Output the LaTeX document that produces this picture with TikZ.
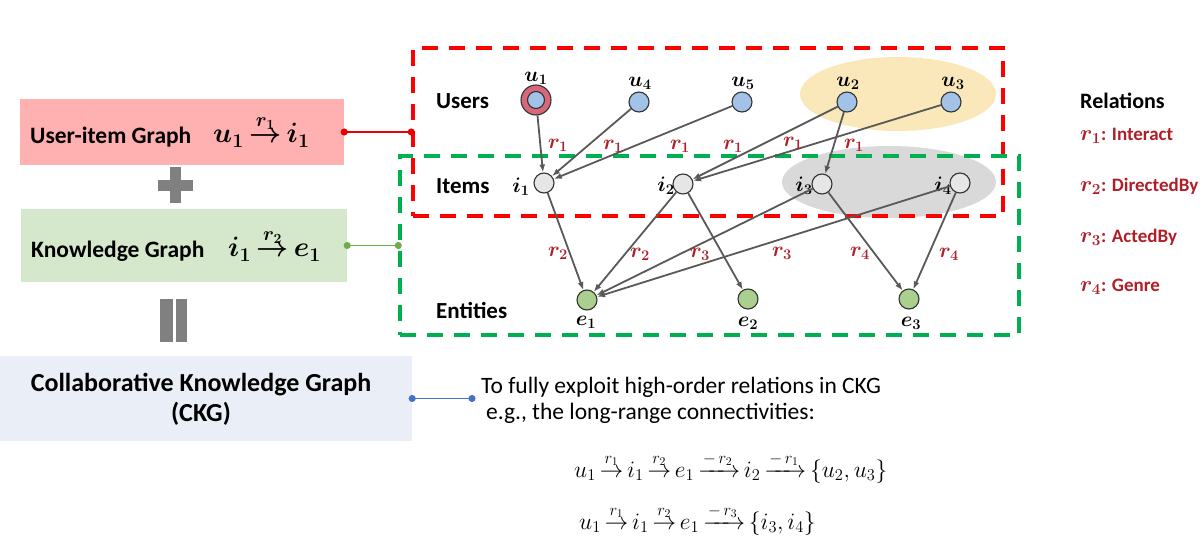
\RequirePackage{fix-cm}
\documentclass[tikz,border=0pt]{standalone}
\usepackage[no-math]{fontspec}
\setmainfont{Carlito}
\usepackage{amsmath}
\usepackage{bm}
\usetikzlibrary{arrows.meta}
\definecolor{pinkbox}{RGB}{255,176,176}
\definecolor{greenbox}{RGB}{213,232,204}
\definecolor{bluebox}{RGB}{233,238,247}
\definecolor{nodeblue}{RGB}{163,194,232}
\definecolor{nodegrey}{RGB}{230,230,230}
\definecolor{nodegreen}{RGB}{169,208,142}
\definecolor{ring}{RGB}{214,104,122}
\definecolor{yell}{RGB}{250,232,186}
\definecolor{greyell}{RGB}{217,217,217}
\definecolor{edgec}{RGB}{89,89,89}
\definecolor{rel}{RGB}{176,30,40}
\definecolor{dashred}{RGB}{255,0,0}
\definecolor{dashgreen}{RGB}{0,176,80}
\definecolor{conred}{RGB}{232,0,0}
\definecolor{congreen}{RGB}{112,173,71}
\definecolor{conblue}{RGB}{68,114,196}
\definecolor{signgrey}{RGB}{128,128,128}
\newcommand{\legr}[1]{{\fontsize{22}{22}\selectfont$\bm{r}_{\bm{#1}}$}}
\tikzset{
  nodebase/.style={circle, draw=black!80, line width=1.1pt, minimum size=20pt, inner sep=0pt},
  ublue/.style={nodebase, fill=nodeblue},
  igrey/.style={nodebase, fill=nodegrey},
  egreen/.style={nodebase, fill=nodegreen},
  link/.style={draw=edgec, line width=1.8pt, -{Latex[length=8pt,width=6pt]}},
  mlab/.style={font=\fontsize{21}{21}\selectfont\boldmath, inner sep=0pt},
  rlab/.style={mlab, text=rel},
  rowlab/.style={font=\fontsize{23}{23}\selectfont\bfseries, anchor=west, inner sep=0pt},
  dashbox/.style={line width=3.5pt, dash pattern=on 16pt off 11pt, inner sep=0pt},
  conn/.style={line width=1.8pt, {Circle[length=7pt]}-{Circle[length=7pt]}, shorten <=-3.5pt, shorten >=-3.5pt},
  legend/.style={font=\fontsize{19}{19}\selectfont\bfseries, text=rel, anchor=west, inner sep=0pt},
  formula/.style={anchor=west, inner sep=0pt, font=\fontsize{23.5}{24}\selectfont},
}
\begin{document}
\begin{tikzpicture}[x=1pt,y=-1pt]
\useasboundingbox (0,0) rectangle (1202,551);
% left boxes
\node[fill=pinkbox, minimum width=324pt, minimum height=66pt, inner sep=0pt] (pink) at (182,132) {};
\node[anchor=west, inner sep=0pt, font=\fontsize{23.5}{24}\selectfont\bfseries] (uitext) at (30,137) {User-item Graph};
\node[anchor=west, inner sep=0pt, font=\fontsize{28}{28}\selectfont\boldmath] (uimath) at (213,131) {$\thickmuskip=3mu u_1 \overset{r_1}{\rightarrow} i_1$};
\node[fill=greenbox, minimum width=326pt, minimum height=73pt, inner sep=0pt] (kg) at (184,245.5) {};
\node[anchor=west, inner sep=0pt, font=\fontsize{23.5}{24}\selectfont\bfseries] (kgtext) at (31,251) {Knowledge Graph};
\node[anchor=west, inner sep=0pt, font=\fontsize{28}{28}\selectfont\boldmath] (kgmath) at (228,245) {$\thickmuskip=3mu i_1 \overset{r_2}{\rightarrow} e_1$};
\node[fill=bluebox, minimum width=412pt, minimum height=85pt, inner sep=0pt] (ckg) at (206,398.5) {};
\node[font=\fontsize{26}{26}\selectfont\bfseries, inner sep=0pt] (ckgt1) at (201,385) {Collaborative Knowledge Graph};
\node[font=\fontsize{26}{26}\selectfont\bfseries, inner sep=0pt] (ckgt2) at (201,414) {(CKG)};
% plus and equals
\fill[signgrey] (158,180) rectangle (193,191);
\fill[signgrey] (169.5,167) rectangle (181,203);
\fill[signgrey] (160,299) rectangle (173,342);
\fill[signgrey] (176,299) rectangle (187,342);
% ellipses
\fill[yell] (898,94) ellipse [x radius=98pt, y radius=37pt];
\fill[greyell] (889,182) ellipse [x radius=107pt, y radius=36pt];
% dashed boxes
\node[dashbox, draw=dashred, minimum width=590pt, minimum height=168pt] (redbox) at (708,132) {};
\node[dashbox, draw=dashgreen, minimum width=619pt, minimum height=179pt] (greenbox) at (709.5,245.5) {};
% connectors
\draw[conn, conred] (pink.east) -- (redbox.west);
\draw[conn, congreen] (kg.east) -- (greenbox.west);
\coordinate (dotb) at (472,398.5);
\draw[conn, conblue] (ckg.east) -- (dotb);
% text
\node[anchor=west, inner sep=0pt, font=\fontsize{23.5}{24}\selectfont] (t1) at (481,387) {To fully exploit high-order relations in CKG};
\node[anchor=west, inner sep=0pt, font=\fontsize{23.5}{24}\selectfont] (t2) at (486,413) {e.g., the long-range connectivities:};
\node[formula] (f1) at (574,467) {$\thickmuskip=3mu u_1 \overset{r_1}{\rightarrow} i_1 \overset{r_2}{\rightarrow} e_1 \xrightarrow{-\,r_2} i_2 \xrightarrow{-\,r_1} \{u_2,u_3\}$};
\node[formula] (f2) at (579,519) {$\thickmuskip=3mu u_1 \overset{r_1}{\rightarrow} i_1 \overset{r_2}{\rightarrow} e_1 \xrightarrow{-\,r_3} \{i_3,i_4\}$};
% row labels
\node[rowlab] (lusers) at (436,101) {Users};
\node[rowlab] (litems) at (436,186) {Items};
\node[rowlab] (lent) at (436,310) {Entities};
% legend
\node[anchor=west, inner sep=0pt, font=\fontsize{22}{22}\selectfont\bfseries] (lrel) at (1080,101) {Relations};
\node[legend] (lr1) at (1080,136) {\legr{1}: Interact};
\node[legend] (lr2) at (1080,186) {\legr{2}: DirectedBy};
\node[legend] (lr3) at (1080,237) {\legr{3}: ActedBy};
\node[legend] (lr4) at (1080,287) {\legr{4}: Genre};
% graph nodes
\node[nodebase, fill=ring, minimum size=30pt] (u1) at (536,100) {};
\node[ublue, minimum size=17pt] (u1in) at (536,100) {};
\node[ublue] (u4) at (639,102) {};
\node[ublue] (u5) at (742,102) {};
\node[ublue] (u2) at (847,102) {};
\node[ublue] (u3) at (951,102) {};
\node[igrey] (i1) at (544,183) {};
\node[igrey] (i2) at (683,184) {};
\node[igrey] (i3) at (822,184) {};
\node[igrey] (i4) at (960,183) {};
\node[egreen] (e1) at (587,300) {};
\node[egreen] (e2) at (748,299) {};
\node[egreen] (e3) at (909,299) {};
% node labels
\node[mlab] (lu1) at (536,78) {$u_1$};
\node[mlab] (lu4) at (640,83) {$u_4$};
\node[mlab] (lu5) at (743,83) {$u_5$};
\node[mlab] (lu2) at (848,83) {$u_2$};
\node[mlab] (lu3) at (953,83) {$u_3$};
\node[mlab] (li1) at (521,187) {$i_1$};
\node[mlab] (li2) at (666,186) {$i_2$};
\node[mlab] (li3) at (804,186) {$i_3$};
\node[mlab] (li4) at (943,186) {$i_4$};
\node[mlab] (le1) at (586,322) {$e_1$};
\node[mlab] (le2) at (748,323) {$e_2$};
\node[mlab] (le3) at (911,323) {$e_3$};
% edges
\draw[link] (u1) -- (i1);
\draw[link] (u4) -- (i1);
\draw[link] (u5) -- (i1);
\draw[link] (u2) -- (i2);
\draw[link] (u3) -- (i2);
\draw[link] (u2) -- (i3);
\draw[link] (i1) -- (e1);
\draw[link] (i2) -- (e1);
\draw[link] (i3) -- (e1);
\draw[link] (i4) -- (e1);
\draw[link] (i2) -- (e2);
\draw[link] (i3) -- (e3);
\draw[link] (i4) -- (e3);
% relation labels
\node[rlab] (a1) at (558,145) {$r_1$};
\node[rlab] (a2) at (613,146) {$r_1$};
\node[rlab] (a3) at (680,146) {$r_1$};
\node[rlab] (a4) at (733,146) {$r_1$};
\node[rlab] (a5) at (793,143) {$r_1$};
\node[rlab] (a6) at (854,145) {$r_1$};
\node[rlab] (b1) at (558,253) {$r_2$};
\node[rlab] (b2) at (640,254) {$r_2$};
\node[rlab] (b3) at (700,254) {$r_3$};
\node[rlab] (b4) at (782,253) {$r_3$};
\node[rlab] (b5) at (860,253) {$r_4$};
\node[rlab] (b6) at (949,254) {$r_4$};
\end{tikzpicture}
\end{document}
